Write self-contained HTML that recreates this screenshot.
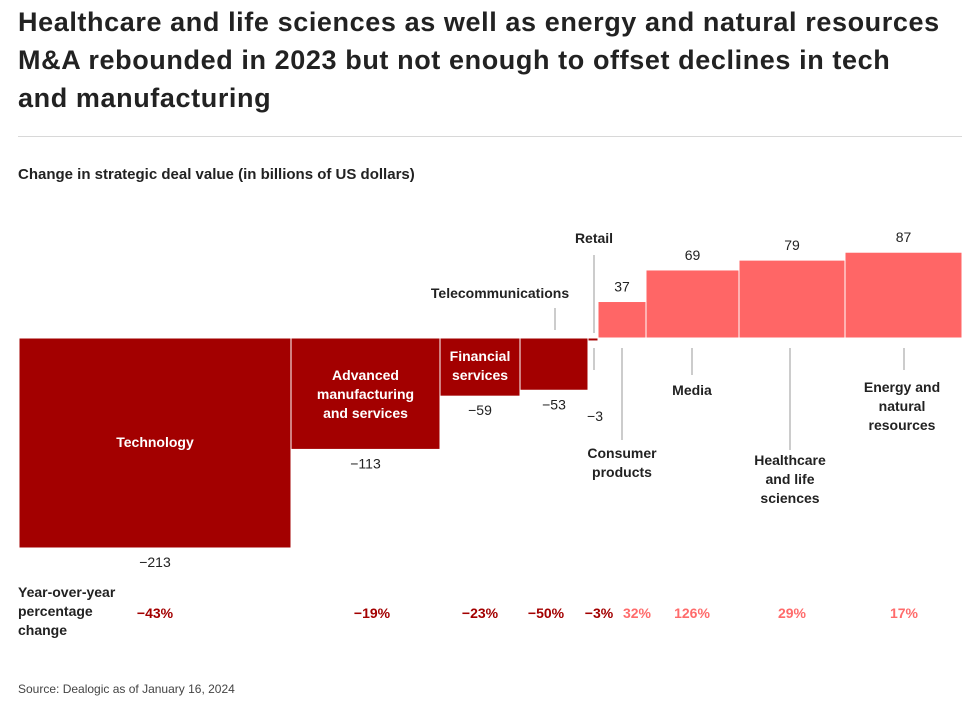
<!DOCTYPE html>
<html><head><meta charset="utf-8"><style>
body{margin:0;background:#fff;font-family:"Liberation Sans",Arial,sans-serif;}
#wrap{position:relative;width:975px;height:716px;overflow:hidden;}
h1{position:absolute;left:18px;top:3px;margin:0;font-size:27px;line-height:38px;font-weight:bold;color:#222;width:925px;letter-spacing:0.6px;}
#sep{position:absolute;left:18px;top:136px;width:944px;height:1px;background:#d8d8d8;}
#sub{position:absolute;left:18px;top:166px;font-size:15px;font-weight:bold;color:#222;}
svg{position:absolute;left:0;top:0;}
</style></head><body>
<div id="wrap">
<h1>Healthcare and life sciences as well as energy and natural resources M&amp;A rebounded in 2023 but not enough to offset declines in tech and manufacturing</h1>
<div id="sep"></div>
<div id="sub">Change in strategic deal value (in billions of US dollars)</div>
<svg id="chart" width="975" height="716"></svg>
</div>
<script>
const categories=["Technology","Advanced manufacturing and services","Financial services","Telecommunications","Retail","Consumer products","Media","Healthcare and life sciences","Energy and natural resources"];
const values=[-213,-113,-59,-53,-3,37,69,79,87];
const pctChange=["−43%","−19%","−23%","−50%","−3%","32%","126%","29%","17%"];
const widthsUnits=[272,149,80,68,10,48,93,106,117];
const svg=document.getElementById('chart');
const NS='http://www.w3.org/2000/svg';
const x0=19,y0=338,k=210/213;
const yScale=v=>y0-v*k;
function mk(t,a){const e=document.createElementNS(NS,t);for(const n in a)e.setAttribute(n,a[n]);svg.appendChild(e);return e;}
function txt(x,y,s,o){const e=mk('text',Object.assign({x:x,y:y,'font-size':14,'text-anchor':'middle',fill:'#222','font-family':'"Liberation Sans",Arial,sans-serif'},o||{}));e.textContent=s;return e;}
let cx=x0;const centers=[];
values.forEach((v,i)=>{
  const w=widthsUnits[i];
  const y=Math.min(yScale(v),y0),h=Math.abs(yScale(v)-y0);
  const r=mk('rect',{x:cx,y:y,width:w,height:Math.max(h,2),fill:v<0?'#a30000':'#ff6666',stroke:'#fff','stroke-width':1});
  
  
  const c=cx+w/2;centers.push(c);
  const ly=v<0?(i===4?yScale(v)+80:yScale(v)+19):yScale(v)-10;
  const lbl=txt(c+(i===4?2:0),ly,values[i]<0?'−'+Math.abs(values[i]):String(values[i]));
  
  
  cx+=w;
});
function lines(x,y,arr,o,name){arr.forEach((s,j)=>{const t=txt(x,y+j*19,s,Object.assign({'font-weight':'bold'},o||{}));});}
lines(centers[0],447,["Technology"],{fill:'#fff'},'category-label');
lines(centers[1],380,["Advanced","manufacturing","and services"],{fill:'#fff'},'category-label');
lines(centers[2],361,["Financial","services"],{fill:'#fff'},'category-label');
lines(500,298,["Telecommunications"],{},'category-label');
lines(594,243,["Retail"],{},'category-label');
lines(622,458,["Consumer","products"],{},'category-label');
lines(692,395,["Media"],{},'category-label');
lines(790,465,["Healthcare","and life","sciences"],{},'category-label');
lines(902,392,["Energy and","natural","resources"],{},'category-label');
[[555,308,330],[594,255,333],[594,348,370],[622,348,440],[692,348,375],[790,348,450],[904,348,370]].forEach(l=>{const e=mk('line',{x1:l[0],x2:l[0],y1:l[1],y2:l[2],stroke:'#999','stroke-width':1});});
lines(18,597,["Year-over-year","percentage","change"],{'text-anchor':'start'},'yoy-row-title');
const pctX=[155,372,480,546,599,637,692,792,904];
pctChange.forEach((p,i)=>{const t=txt(pctX[i],618,p,{'font-weight':'bold',fill:values[i]<0?'#a30000':'#ff6b6b'});});
const s=txt(18,693,"Source: Dealogic as of January 16, 2024",{'text-anchor':'start','font-size':12,fill:'#444'});


</script>
</body></html>
